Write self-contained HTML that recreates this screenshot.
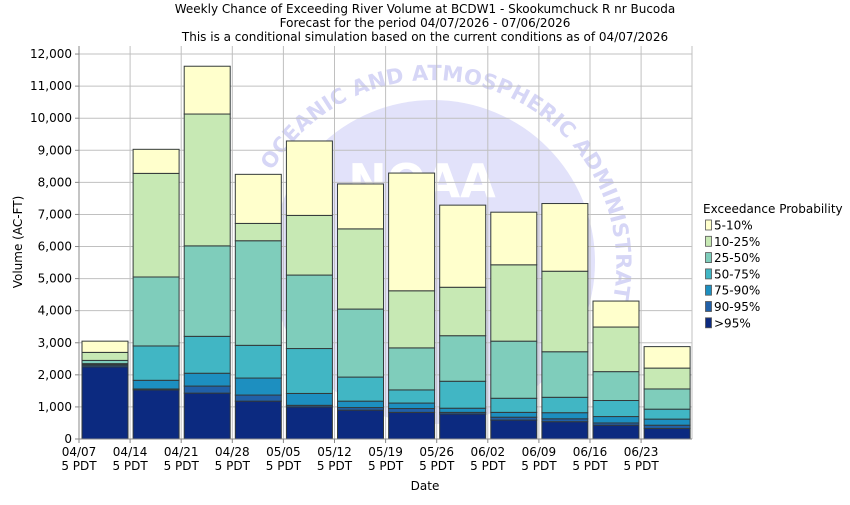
<!DOCTYPE html>
<html><head><meta charset="utf-8"><style>
body{margin:0;background:#fff;}
svg text{font-family:"DejaVu Sans","Liberation Sans",sans-serif;fill:#000;}
</style></head><body>
<svg id="s" width="850" height="500" xmlns="http://www.w3.org/2000/svg">
<defs>
<clipPath id="pc"><rect x="79" y="46" width="613" height="393"/></clipPath>
<path id="arc" d="M 272 171 A 185 185 0 0 1 600 341"/>
</defs>
<rect width="850" height="500" fill="#fff"/>
<g font-size="12" text-anchor="middle">
<text x="425" y="13">Weekly Chance of Exceeding River Volume at BCDW1 - Skookumchuck R nr Bucoda</text>
<text x="425" y="27">Forecast for the period 04/07/2026 - 07/06/2026</text>
<text x="425" y="41">This is a conditional simulation based on the current conditions as of 04/07/2026</text>
</g>
<g clip-path="url(#pc)">
<circle cx="433" cy="262" r="162" fill="#e2e2fa"/>
<text font-size="21" font-weight="bold" style="fill:#d6d6f6"><textPath href="#arc" textLength="560" lengthAdjust="spacing">OCEANIC AND ATMOSPHERIC ADMINISTRATION</textPath></text>
<text x="422" y="197" font-size="46" font-weight="bold" text-anchor="middle" style="fill:#ffffff">NOAA</text>
</g>
<g id="grid"></g>
<g id="bars"></g>
<line x1="79" y1="46" x2="79" y2="439" stroke="#888"/>
<line x1="79" y1="439" x2="692" y2="439" stroke="#888"/>
<g id="labels" font-size="12"></g>
<text x="425" y="490" font-size="12" text-anchor="middle">Date</text>
<text transform="translate(22,242) rotate(-90)" font-size="12" text-anchor="middle">Volume (AC-FT)</text>
<g id="leg" font-size="12"></g>
</svg>
<script>
var ns="http://www.w3.org/2000/svg";
function el(p,t,a,txt){var e=document.createElementNS(ns,t);for(var k in a)e.setAttribute(k,a[k]);if(txt!=null)e.textContent=txt;document.getElementById(p).appendChild(e);}
function Y(v){return 439-v*0.03208;}
for(var i=1;i<=12;i++){var y=Y(i*1000);el("grid","line",{x1:79,x2:692,y1:y,y2:y,stroke:"#c0c0c0"});}
for(var i=0;i<=12;i++){var y=Y(i*1000);el("grid","line",{x1:75,x2:79,y1:y,y2:y,stroke:"#888"});
el("labels","text",{x:72,y:y+4,"text-anchor":"end"},i==0?"0":i+",000");}
var dates=["04/07","04/14","04/21","04/28","05/05","05/12","05/19","05/26","06/02","06/09","06/16","06/23"];
for(var i=0;i<12;i++){var x=79+51.1*i;if(i>0)el("grid","line",{x1:x,x2:x,y1:46,y2:439,stroke:"#c0c0c0"});
el("grid","line",{x1:x,x2:x,y1:439,y2:443,stroke:"#888"});
el("labels","text",{x:x,y:456,"text-anchor":"middle"},dates[i]);
el("labels","text",{x:x,y:470,"text-anchor":"middle"},"5 PDT");}
el("grid","line",{x1:692,x2:692,y1:46,y2:439,stroke:"#c0c0c0"});
var cols=["#0c2a80","#2160a8","#1d8fc0","#41b6c4","#7fcdbb","#c7e9b4","#ffffcc"];
var d=[[2250,2300,2330,2350,2450,2700,3050],[1530,1560,1830,2900,5050,8280,9030],[1430,1650,2050,3200,6020,10130,11620],
[1180,1370,1900,2920,6180,6720,8250],[1000,1050,1420,2820,5110,6970,9290],[900,980,1180,1930,4050,6550,7950],
[830,950,1120,1530,2840,4620,8290],[780,830,960,1800,3220,4730,7290],[590,680,830,1270,3050,5430,7070],
[540,630,820,1300,2720,5230,7340],[430,500,700,1200,2100,3490,4300],[330,430,620,930,1560,2210,2880]];
for(var i=0;i<12;i++){var x=79+51.1*i+3;var prev=0;
for(var j=0;j<7;j++){var v=d[i][j];el("bars","rect",{x:x,y:Y(v),width:46,height:Y(prev)-Y(v),fill:cols[j],stroke:"#333a3a","stroke-width":1});prev=v;}}
el("leg","text",{x:703,y:213},"Exceedance Probability");
var ln=["5-10%","10-25%","25-50%","50-75%","75-90%","90-95%",">95%"];
for(var k=0;k<7;k++){var cy=225+16.3*k;el("leg","rect",{x:705.5,y:cy-5,width:6,height:10,fill:cols[6-k],stroke:"#555","stroke-width":0.8});
el("leg","text",{x:714,y:cy+4.5},ln[k]);}
</script>
</body></html>
